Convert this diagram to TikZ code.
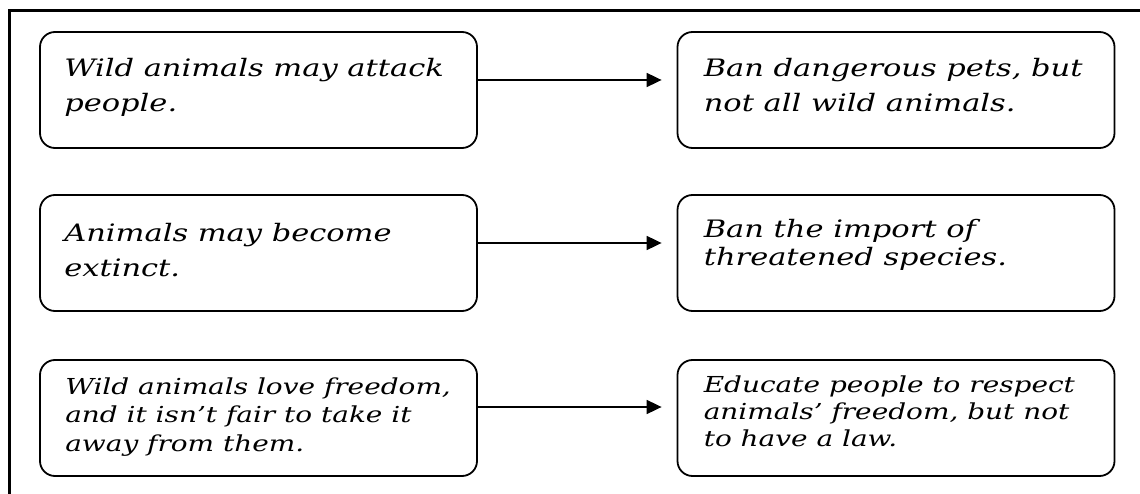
\documentclass[tikz,border=0pt]{standalone}
\usepackage{fontspec}
\setmainfont{DejaVu Serif}[ItalicFeatures={FakeStretch=1.27}]
\usetikzlibrary{arrows.meta}
\begin{document}
\begin{tikzpicture}[x=1pt,y=1pt,
  card/.style={draw, line width=1.8pt, rounded corners=15pt,
    minimum width=437pt, minimum height=116pt, inner sep=0pt},
  % multi-line texts are placed by the baseline of their last line
  bigtext/.style={anchor=base west, inner sep=0pt, align=left,
    font=\fontsize{24}{#1}\selectfont\itshape},
  bigtext/.default=35,
  smalltext/.style={anchor=base west, inner sep=0pt, align=left,
    font=\fontsize{22}{#1}\selectfont\itshape},
  smalltext/.default=28.5,
  link/.style={line width=1.8pt, -{Triangle[length=15pt,width=14pt]},
    shorten >=15pt}
]
\useasboundingbox (0,0) rectangle (1140,-494);
% outer frame, open to the right and bottom
\draw[line width=2.5pt] (9.5,-494) -- (9.5,-10.5) -- (1140,-10.5);

% problem boxes (left) and proposals (right)
\node[card] (c1) at (258.5,-90) {};
\node[card] (e1) at (896,-90) {};
\node[card] (c2) at (258.5,-253) {};
\node[card] (e2) at (896,-253) {};
\node[card] (c3) at (258.5,-418) {};
\node[card] (e3) at (896,-418) {};

% texts
\node[bigtext] (c1t) at ([xshift=25pt,yshift=-80pt]c1.north west)
  {Wild animals may attack\\people.};
\node[bigtext] (e1t) at ([xshift=27pt,yshift=-80pt]e1.north west)
  {Ban dangerous pets, but\\not all wild animals.};
\node[bigtext] (c2t) at ([xshift=25pt,yshift=-82pt]c2.north west)
  {Animals may become\\extinct.};
\node[bigtext=28] (e2t) at ([xshift=27pt,yshift=-71pt]e2.north west)
  {Ban the import of\\threatened species.};
\node[smalltext] (c3t) at ([xshift=26pt,yshift=-92pt]c3.north west)
  {Wild animals love freedom,\\and it isn’t fair to take it\\away from them.};
\node[smalltext=27] (e3t) at ([xshift=27pt,yshift=-87pt]e3.north west)
  {Educate people to respect\\animals’ freedom, but not\\to have a law.};

% arrows from each problem to its proposal
\draw[link] ([yshift=10pt]c1.east) -- ([yshift=10pt]e1.west);
\draw[link] ([yshift=10pt]c2.east) -- ([yshift=10pt]e2.west);
\draw[link] ([yshift=11pt]c3.east) -- ([yshift=11pt]e3.west);
\end{tikzpicture}
\end{document}
